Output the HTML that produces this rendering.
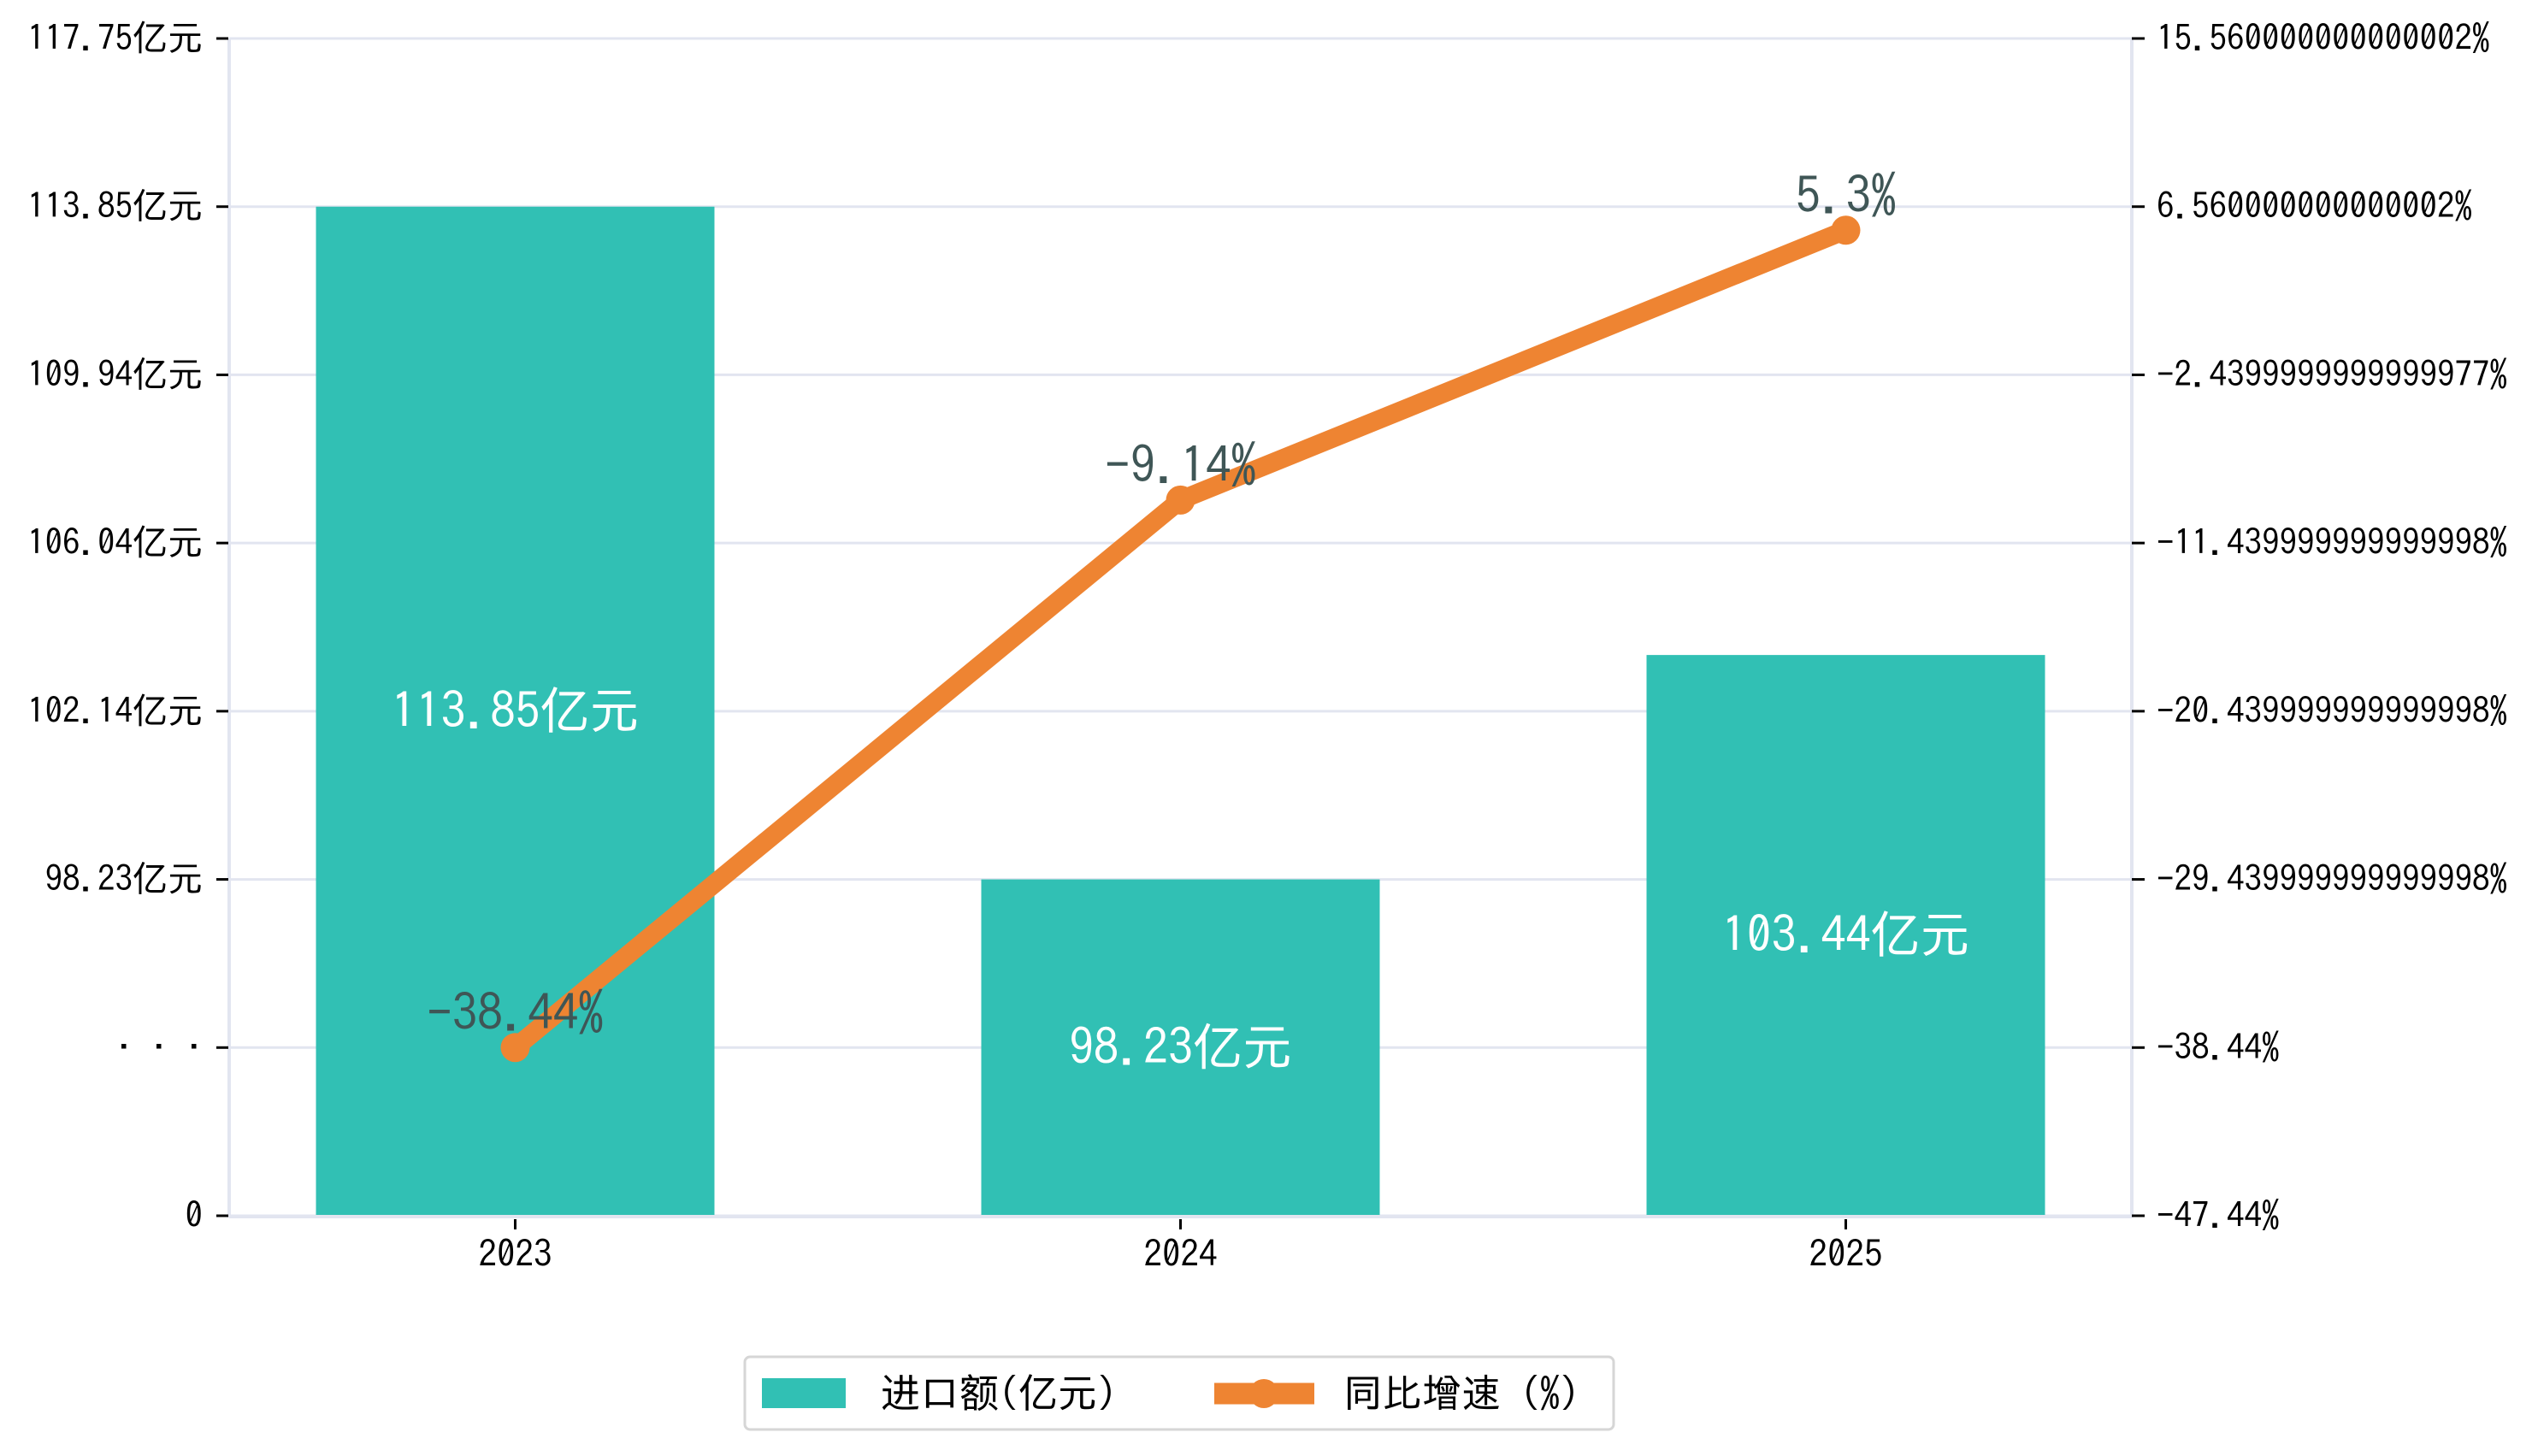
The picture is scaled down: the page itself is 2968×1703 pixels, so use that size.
<!DOCTYPE html>
<html><head><meta charset="utf-8"><style>
html,body{margin:0;padding:0;background:#fff;}
svg{display:block;font-family:"IPAGothic","Liberation Sans","Noto Sans CJK JP",sans-serif;}
</style></head><body>
<svg id="chart" width="2968" height="1703" viewBox="0 0 2968 1703" xmlns="http://www.w3.org/2000/svg"></svg>
<script>
const categories = ["2023", "2024", "2025"];
const importValues = [113.85, 98.23, 103.44];
const growthValues = [-38.44, -9.14, 5.3];
const leftTickLabels = ["0", "· · ·", "98.23亿元", "102.14亿元", "106.04亿元", "109.94亿元", "113.85亿元", "117.75亿元"];
const rightTickValues = [-47.44, -38.44, -29.44, -20.44, -11.44, -2.44, 6.56, 15.56];
const rightTickLabels = ["-47.44%", "-38.44%", "-29.439999999999998%", "-20.439999999999998%", "-11.439999999999998%", "-2.4399999999999977%", "6.560000000000002%", "15.560000000000002%"];

const NS = "http://www.w3.org/2000/svg";
const svg = document.getElementById("chart");
const L = 268, R = 2493, T = 45, B = 1422;
const step = (B - T) / 7;
function mk(tag, attrs, parent) {
  const e = document.createElementNS(NS, tag);
  for (const k in attrs) e.setAttribute(k, attrs[k]);
  (parent || svg).appendChild(e);
  return e;
}
function yLeft(v) { return B - (2 + (v - 98.23) / 3.905) * step; }
function yRight(v) { return B - (v - rightTickValues[0]) / 9 * step; }
const spacing = 778;
function xC(i) { return (L + R) / 2 + (i - (categories.length - 1) / 2) * spacing; }
const barW = 466;

for (let i = 0; i < 8; i++) {
  const y = B - i * step;
  const g = mk("line", {x1: L, x2: R, y1: y, y2: y, stroke: "#e2e5f0", "stroke-width": 3});
  
  
}
let s = mk("line", {x1: L, x2: L, y1: T, y2: B + 2, stroke: "#e2e5f0", "stroke-width": 4});
 
s = mk("line", {x1: R, x2: R, y1: T, y2: B + 2, stroke: "#e2e5f0", "stroke-width": 4});
 

categories.forEach((c, i) => {
  const top = yLeft(importValues[i]);
  const r = mk("rect", {x: xC(i) - barW / 2, y: top, width: barW, height: B - top, fill: "#31c0b4"});
  
  
  const t = mk("text", {x: xC(i), y: (top + B) / 2 + 20, "text-anchor": "middle", fill: "#fff", "font-size": 58});
  t.textContent = importValues[i] + "亿元";
  
  
});
s = mk("line", {x1: L, x2: R, y1: B + 1, y2: B + 1, stroke: "#e2e5f0", "stroke-width": 4});
 

leftTickLabels.forEach((lab, i) => {
  const y = B - i * step;
  mk("line", {x1: 253, x2: 267, y1: y, y2: y, stroke: "#000", "stroke-width": 3});
  const t = mk("text", {x: 237, y: y + 14, "text-anchor": "end", fill: "#000", "font-size": 41});
  t.textContent = lab;
  
  
});
rightTickValues.forEach((v, i) => {
  const y = yRight(v);
  mk("line", {x1: R, x2: R + 15, y1: y, y2: y, stroke: "#000", "stroke-width": 3});
  const t = mk("text", {x: 2522, y: y + 14, fill: "#000", "font-size": 41});
  t.textContent = rightTickLabels[i].replace(/^-/, "\u2212");
  
  
});
categories.forEach((c, i) => {
  mk("line", {x1: xC(i), x2: xC(i), y1: B + 4, y2: B + 16, stroke: "#000", "stroke-width": 3});
  const t = mk("text", {x: xC(i), y: 1482, "text-anchor": "middle", fill: "#000", "font-size": 43});
  t.textContent = c;
  
  
});

const pts = growthValues.map((v, i) => xC(i) + "," + yRight(v)).join(" ");
const pl = mk("polyline", {points: pts, fill: "none", stroke: "#ee8432", "stroke-width": 22, "stroke-linejoin": "round"});


growthValues.forEach((v, i) => {
  const c = mk("circle", {cx: xC(i), cy: yRight(v), r: 17, fill: "#ee8432"});
  
  
  const t = mk("text", {x: xC(i), y: yRight(v) - 20, "text-anchor": "middle", fill: "#3f5656", "font-size": 59});
  t.textContent = (v < 0 ? "\u2212" + Math.abs(v) : v) + "%";
  
  
});

const lg = mk("g", {});


mk("rect", {x: 871, y: 1587, width: 1016, height: 85, rx: 6, fill: "#fff", stroke: "#d6d6d6", "stroke-width": 3}, lg);
let e = mk("rect", {x: 891, y: 1612, width: 98, height: 35, fill: "#31c0b4"}, lg);
 
e = mk("text", {x: 1030, y: 1646, fill: "#000", "font-size": 46}, lg);
e.textContent = "进口额(亿元)";
 
e = mk("line", {x1: 1420, x2: 1537, y1: 1630, y2: 1630, stroke: "#ee8432", "stroke-width": 25}, lg);
 
mk("circle", {cx: 1478, cy: 1630, r: 17, fill: "#ee8432"}, lg);
e = mk("text", {x: 1571, y: 1646, fill: "#000", "font-size": 46}, lg);
e.textContent = "同比增速 (%)";
 
</script>
</body></html>
